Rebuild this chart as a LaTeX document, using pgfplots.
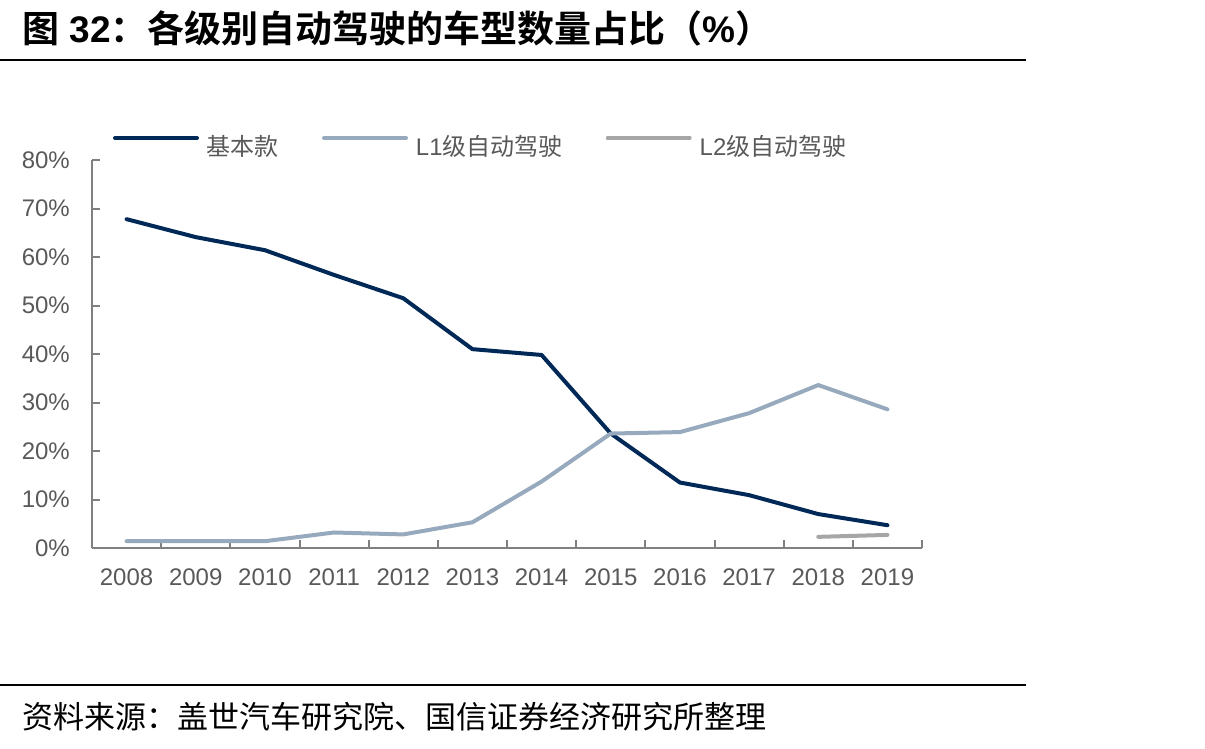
\documentclass[border=0pt]{standalone}
\usepackage{pgfplots}
\pgfplotsset{compat=1.18}
\usepackage{pgfplotstable}
\usepackage{fontspec}
\setmainfont{Liberation Sans}
\newfontfamily\cjk[BoldFont={Noto Sans CJK SC Bold}]{Noto Sans CJK SC}

\definecolor{navy}{RGB}{0,41,87}
\definecolor{steel}{RGB}{151,170,189}
\definecolor{silver}{RGB}{166,166,166}
\definecolor{axisgray}{RGB}{128,128,128}
\definecolor{labelgray}{RGB}{89,89,89}

% share of models by driving-automation level, per year (x = category centre)
\pgfplotstableread{
x     base  Lone
0.5   67.8  1.4
1.5   64.1  1.4
2.5   61.4  1.4
3.5   56.3  3.2
4.5   51.5  2.8
5.5   41.0  5.3
6.5   39.8  13.7
7.5   23.6  23.6
8.5   13.5  23.9
9.5   10.9  27.8
10.5   7.0  33.6
11.5   4.7  28.6
}\sharedata

\begin{document}
\begin{tikzpicture}
\useasboundingbox (0,0) rectangle (1205bp,-749bp);

% heading and rules
\node[anchor=west,inner sep=0pt] at (22bp,-28bp)
  {\fontsize{37bp}{42bp}\selectfont\bfseries{\cjk 图} 32{\cjk ：各级别自动驾驶的车型数量占比（}\%{\cjk ）}};
\draw[line width=2bp] (0bp,-60bp) -- (1026bp,-60bp);
\draw[line width=2bp] (0bp,-685bp) -- (1026bp,-685bp);
\node[anchor=west,inner sep=0pt] at (22bp,-717bp)
  {\fontsize{31bp}{36bp}\selectfont\cjk 资料来源：盖世汽车研究院、国信证券经济研究所整理};

\begin{axis}[
  at={(92bp,-548bp)}, anchor=south west,
  scale only axis, width=830bp, height=388bp,
  xmin=0, xmax=12, ymin=0, ymax=80,
  axis x line*=bottom, axis y line*=left,
  axis line style={draw=axisgray, line width=2.5bp},
  tick align=inside,
  major tick length=8bp,
  tick style={draw=axisgray, line width=2bp},
  xtick={1,2,3,4,5,6,7,8,9,10,11,12},
  xticklabels={},
  extra x ticks={0.5,1.5,2.5,3.5,4.5,5.5,6.5,7.5,8.5,9.5,10.5,11.5},
  extra x tick labels={2008,2009,2010,2011,2012,2013,2014,2015,2016,2017,2018,2019},
  extra x tick style={major tick length=0pt, tick style={draw=none}},
  ytick={0,10,20,30,40,50,60,70,80},
  yticklabel={\pgfmathprintnumber{\tick}\%},
  /pgf/number format/assume math mode=true,
  tick label style={font=\fontsize{24bp}{28bp}\selectfont, text=labelgray},
  xticklabel style={anchor=north, inner sep=0pt, yshift=-21bp},
  yticklabel style={anchor=east, inner sep=0pt, xshift=-22bp},
  legend columns=3,
  legend style={draw=none, fill=none, inner sep=0pt, outer sep=0pt,
    at={(axis description cs:0.0253,1.036)}, anchor=west,
    font=\fontsize{24bp}{28bp}\selectfont, text=labelgray,
    nodes={inner sep=0pt},
    /tikz/every odd column/.append style={column sep=8bp},
    /tikz/every even column/.append style={column sep=43bp}},
  legend image code/.code={\draw[#1, line width=4bp] (0bp,8bp) -- (82bp,8bp);},
]
\addplot[navy, line width=4bp, line join=round, line cap=round] table[x=x, y=base] {\sharedata};
\addplot[steel, line width=4bp, line join=round, line cap=round] table[x=x, y=Lone] {\sharedata};
\addplot[silver, line width=4bp, line join=round, line cap=round] coordinates {(10.5,2.3) (11.5,2.7)};
\legend{{\cjk 基本款},{L1\cjk 级自动驾驶},{L2\cjk 级自动驾驶}}
\end{axis}
\end{tikzpicture}
\end{document}
